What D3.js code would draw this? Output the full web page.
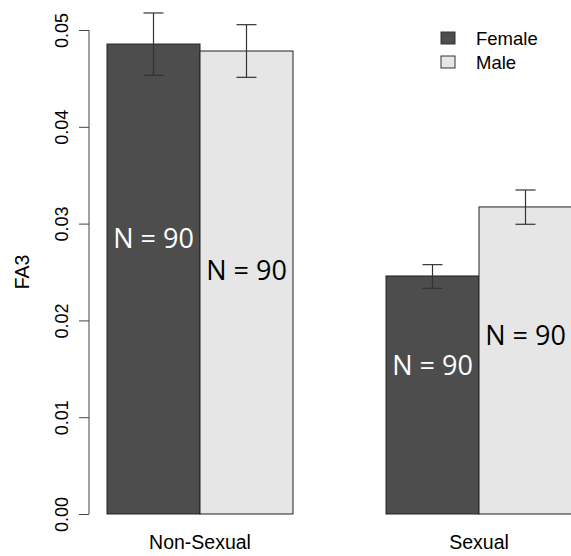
<!DOCTYPE html>
<html><head><meta charset="utf-8">
<script src="https://cdn.jsdelivr.net/npm/d3@7"></script>
<style>body{margin:0;background:#fff}svg{display:block}</style>
</head><body>
<script>
const categories = ["Non-Sexual", "Sexual"];
const series = ["Female", "Male"];
const means = [[0.04855, 0.04783], [0.02459, 0.03172]];
const errLow = [[0.04532, 0.04511], [0.02331, 0.02993]];
const errHigh = [[0.05176, 0.05055], [0.02576, 0.03347]];
const nLabels = [["N = 90", "N = 90"], ["N = 90", "N = 90"]];
const nLabelY = [[0.0275, 0.0242], [0.0144, 0.0175]];
const yTicks = [0, 0.01, 0.02, 0.03, 0.04, 0.05];
const colors = ["#4d4d4d", "#e6e6e6"];
const textColors = ["#ffffff", "#000000"];

const W = 571, H = 556;
const svg = d3.select("body").append("svg").attr("width", W).attr("height", H);
const y = d3.scaleLinear().domain([0, 0.05]).range([514, 30]);
const x = d3.scaleLinear().domain([0, 6]).range([14, 572]);
const bw = x(1) - x(0);
const start = (g, s) => 1 + g * 3 + s;
const SANS = "Liberation Sans, Arial";

const g = svg.append("g");
categories.forEach((c, gi) => {
  series.forEach((s, si) => {
    const x0 = x(start(gi, si));
    g.append("rect").attr("x", x0).attr("y", y(means[gi][si]))
      .attr("width", bw).attr("height", y(0) - y(means[gi][si]))
      .attr("fill", colors[si]).attr("stroke", "#222").attr("stroke-width", 1);
  });
});
categories.forEach((c, gi) => {
  series.forEach((s, si) => {
    const cx = x(start(gi, si) + 0.5);
    const eg = g.append("g").attr("stroke", "#333").attr("stroke-width", 1.2);
    eg.append("line").attr("x1", cx).attr("x2", cx).attr("y1", y(errLow[gi][si])).attr("y2", y(errHigh[gi][si]));
    eg.append("line").attr("x1", cx - 10).attr("x2", cx + 10).attr("y1", y(errLow[gi][si])).attr("y2", y(errLow[gi][si]));
    eg.append("line").attr("x1", cx - 10).attr("x2", cx + 10).attr("y1", y(errHigh[gi][si])).attr("y2", y(errHigh[gi][si]));
    g.append("text").attr("x", cx).attr("y", y(nLabelY[gi][si]))
      .attr("text-anchor", "middle").attr("font-family", "Open Sans")
      .attr("font-size", 27).attr("fill", textColors[si]).text(nLabels[gi][si]);
  });
  svg.append("text").attr("x", x(start(gi, 0) + 1)).attr("y", 549)
    .attr("text-anchor", "middle").attr("font-family", SANS)
    .attr("font-size", 19.5).attr("fill", "#000").text(c);
});

// y axis
const ax = svg.append("g").attr("transform", "translate(89,0)")
  .call(d3.axisLeft(y).tickValues(yTicks).tickFormat(d3.format(".2f")).tickSize(10));
ax.select(".domain").attr("stroke", "#444").attr("d", `M0,${y(0)}V${y(0.05)}`);
ax.selectAll(".tick line").attr("stroke", "#444");
ax.selectAll(".tick text").attr("font-family", SANS).attr("font-size", 18).attr("fill", "#000")
  .attr("transform", "rotate(-90)").attr("x", 0).attr("y", -21).attr("dx", 0).attr("dy", 0)
  .attr("text-anchor", "middle");
svg.append("text").attr("transform", `translate(29,${y(0.025)}) rotate(-90)`)
  .attr("text-anchor", "middle").attr("font-family", SANS).attr("font-size", 19.5).text("FA3");

// legend
const lg = svg.append("g");
series.forEach((s, si) => {
  lg.append("rect").attr("x", 441).attr("y", 32 + si * 24).attr("width", 14).attr("height", 12)
    .attr("fill", colors[si]).attr("stroke", "#333").attr("stroke-width", 1);
  lg.append("text").attr("x", 476).attr("y", 45 + si * 24).attr("font-family", SANS)
    .attr("font-size", 18.5).text(s);
});
</script>
</body></html>
